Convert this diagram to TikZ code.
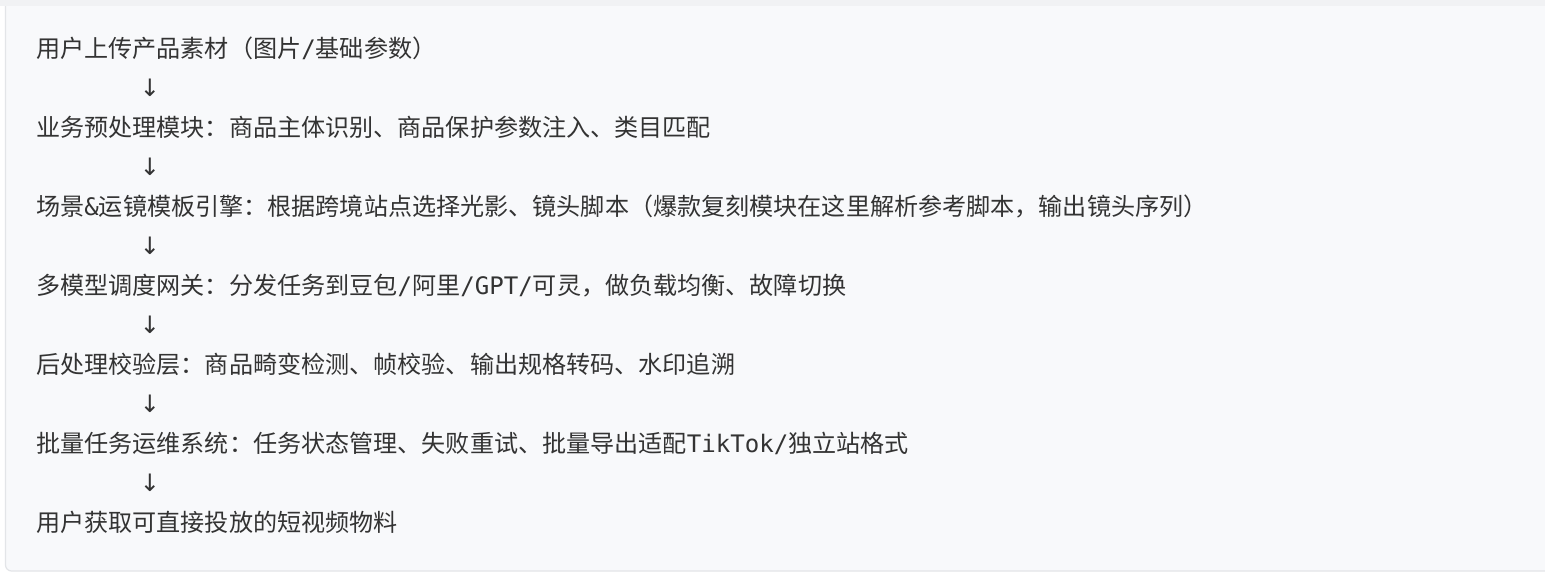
\documentclass[tikz,border=0pt]{standalone}
\usepackage{fontspec}
\newfontfamily\cjk{Noto Sans CJK SC}
\newfontfamily\monofam{DejaVu Sans Mono}
\newfontfamily\arrowfam{DejaVu Sans}
\newcommand\lat[1]{{\monofam #1}}
\definecolor{bandgray}{HTML}{F1F2F4}
\definecolor{boxfill}{HTML}{F8F9FB}
\definecolor{boxline}{HTML}{E3E5E8}
\definecolor{txt}{HTML}{333333}
\tikzset{
  line/.style={anchor=base west, inner sep=0pt, text=txt, font=\cjk\fontsize{24.1}{28}\selectfont},
  down/.style={anchor=center, inner sep=0pt, text=txt, font=\arrowfam\fontsize{24}{28}\selectfont}
}
\begin{document}
\begin{tikzpicture}[x=1pt,y=-1pt]
\useasboundingbox (0,0) rectangle (1545,576);
\fill[white] (0,0) rectangle (1545,576);
\draw[boxline, fill=boxfill, line width=1.2pt, rounded corners=6pt] (5.5,-20) rectangle (1580,571);
\fill[bandgray] (0,0) rectangle (1545,5.7);
\node[line] (l1) at (36,57.5) {用户上传产品素材（图片\lat{/}基础参数）};
\node[down] (a1) at (150,88) {↓};
\node[line] (l2) at (36,136.5) {业务预处理模块：商品主体识别、商品保护参数注入、类目匹配};
\node[down] (a2) at (150,167) {↓};
\node[line] (l3) at (36,215.5) {场景\lat{\&}运镜模板引擎：根据跨境站点选择光影、镜头脚本（爆款复刻模块在这里解析参考脚本，输出镜头序列）};
\node[down] (a3) at (150,246) {↓};
\node[line] (l4) at (36,294.5) {多模型调度网关：分发任务到豆包\lat{/}阿里\lat{/GPT/}可灵，做负载均衡、故障切换};
\node[down] (a4) at (150,325) {↓};
\node[line] (l5) at (36,373.5) {后处理校验层：商品畸变检测、帧校验、输出规格转码、水印追溯};
\node[down] (a5) at (150,404) {↓};
\node[line] (l6) at (36,452.5) {批量任务运维系统：任务状态管理、失败重试、批量导出适配\lat{TikTok/}独立站格式};
\node[down] (a6) at (150,483) {↓};
\node[line] (l7) at (36,531.5) {用户获取可直接投放的短视频物料};
\end{tikzpicture}
\end{document}
